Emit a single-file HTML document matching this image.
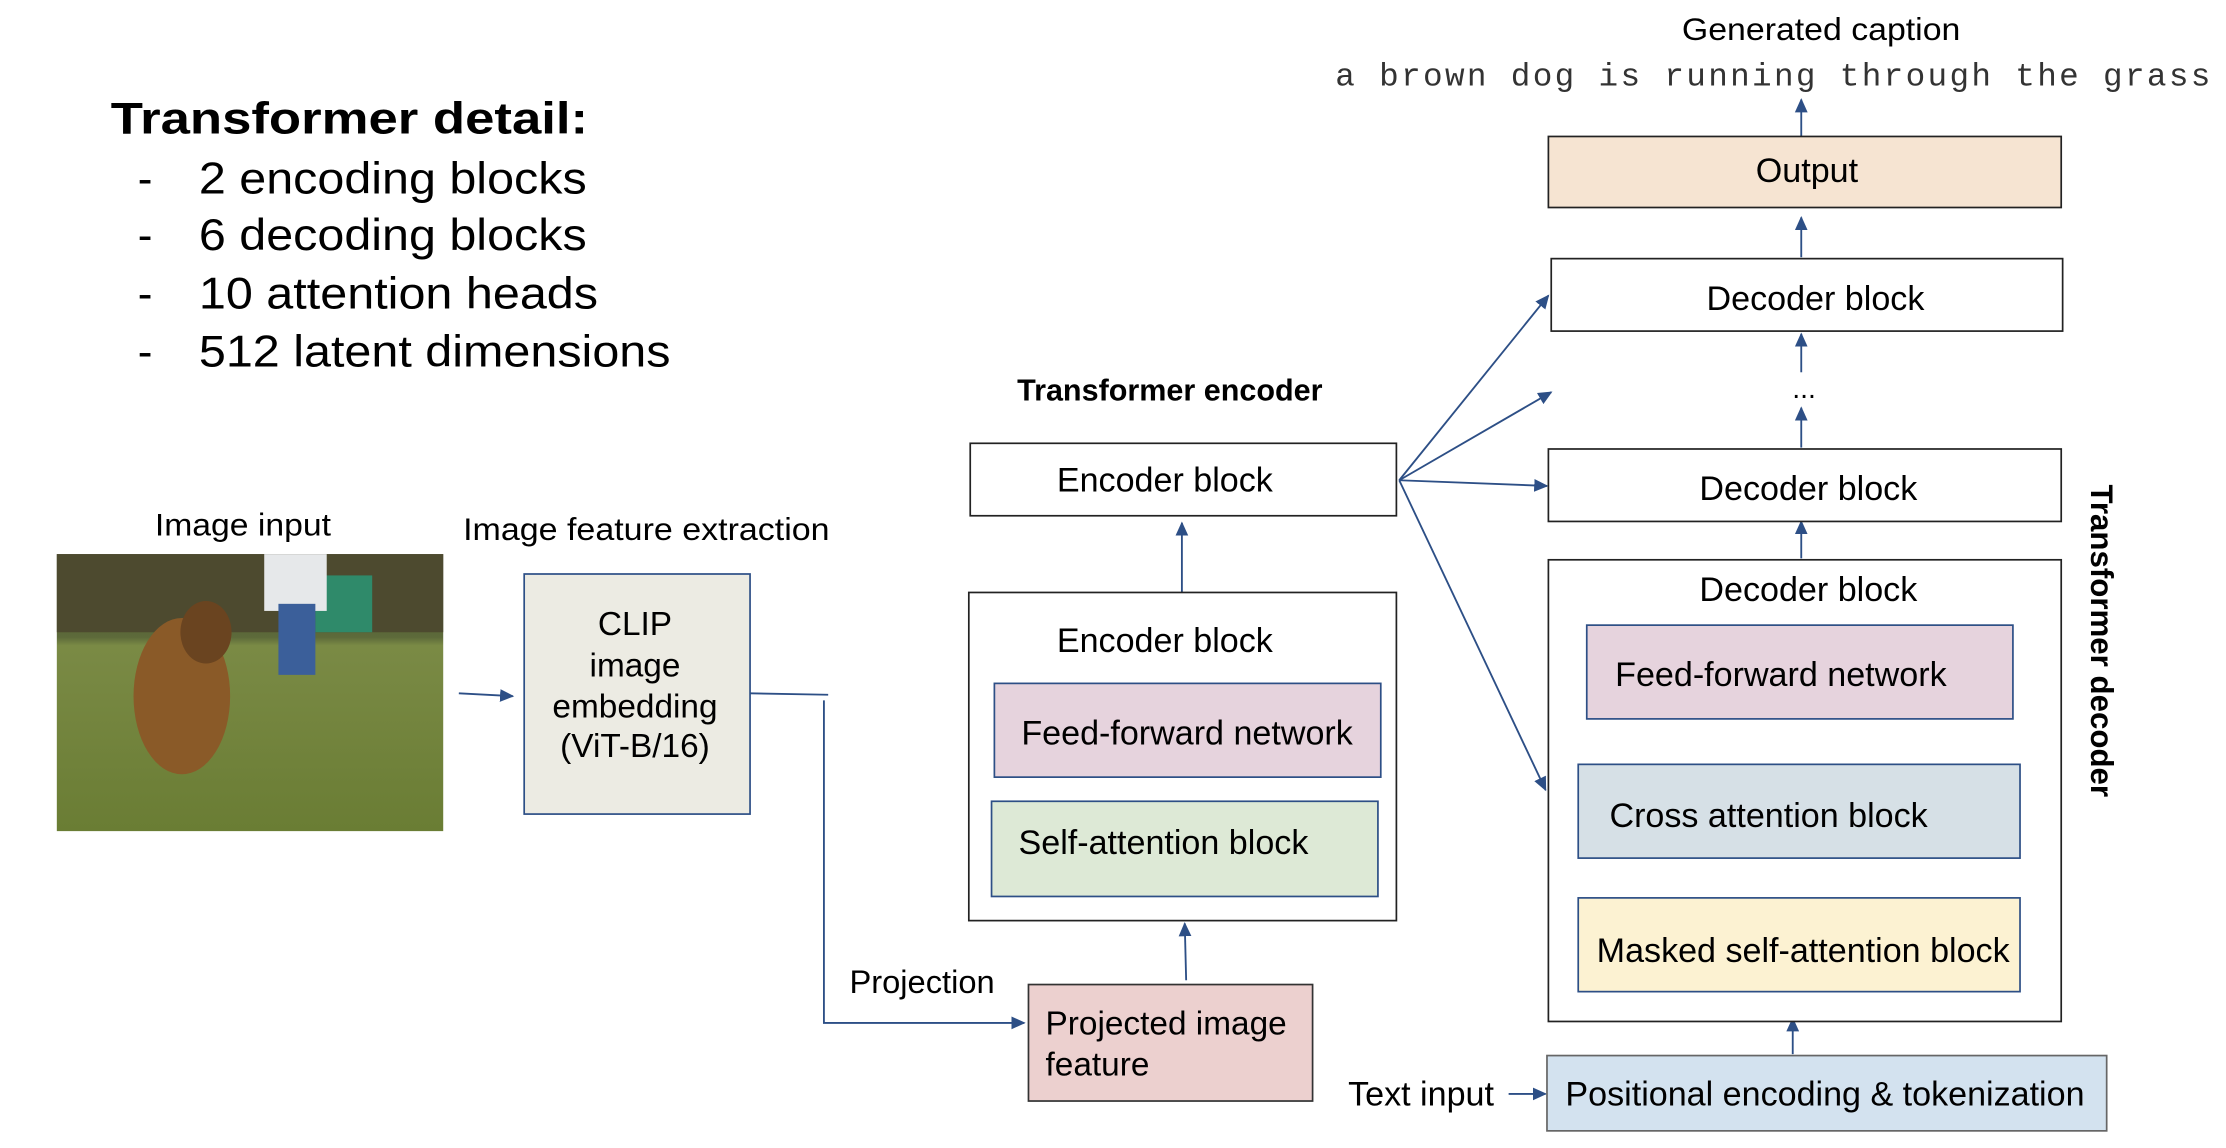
<!DOCTYPE html>
<html><head><meta charset="utf-8"><style>
html,body{margin:0;padding:0;background:#fff;}
svg{display:block;}
text{font-family:"Liberation Sans",Arial,sans-serif;fill:#000;}
</style></head><body>
<svg width="2226" height="1148" viewBox="0 0 1567 808" xmlns="http://www.w3.org/2000/svg">
<defs>
<marker id="a" markerWidth="12" markerHeight="12" refX="9" refY="5.5" orient="auto" markerUnits="userSpaceOnUse">
<path d="M0,1 L10,5.5 L0,10 z" fill="#2d4f86"/>
</marker>
<linearGradient id="sky" x1="0" y1="0" x2="0" y2="1">
<stop offset="0" stop-color="#4a4a30"/><stop offset="0.3" stop-color="#5d6a3a"/><stop offset="0.33" stop-color="#7a8a45"/><stop offset="1" stop-color="#6a7d34"/>
</linearGradient>
</defs>
<text x="78" y="94" font-size="31" font-weight="bold" textLength="336" lengthAdjust="spacingAndGlyphs">Transformer detail:</text>
<g font-size="31">
<text x="97" y="136">-</text><text x="140" y="136" textLength="273" lengthAdjust="spacingAndGlyphs">2 encoding blocks</text>
<text x="97" y="176">-</text><text x="140" y="176" textLength="273" lengthAdjust="spacingAndGlyphs">6 decoding blocks</text>
<text x="97" y="217">-</text><text x="140" y="217" textLength="281" lengthAdjust="spacingAndGlyphs">10 attention heads</text>
<text x="97" y="258">-</text><text x="140" y="258" textLength="332" lengthAdjust="spacingAndGlyphs">512 latent dimensions</text>
</g>
<text x="171" y="377" font-size="22" text-anchor="middle" textLength="124" lengthAdjust="spacingAndGlyphs">Image input</text>
<rect x="40" y="390" width="272" height="195" fill="url(#sky)"/>
<rect x="40" y="390" width="272" height="55" fill="#4d4a2f"/>
<rect x="222" y="405" width="40" height="40" fill="#2f8a6a"/>
<rect x="186" y="390" width="44" height="40" fill="#e6e8ea"/>
<rect x="196" y="425" width="26" height="50" fill="#3b5f9a"/>
<ellipse cx="128" cy="490" rx="34" ry="55" fill="#8a5a28"/>
<ellipse cx="145" cy="445" rx="18" ry="22" fill="#6a4420"/>
<text x="326" y="380" font-size="22" textLength="258" lengthAdjust="spacingAndGlyphs">Image feature extraction</text>
<rect x="369" y="404" width="159" height="169" fill="#ecebe3" stroke="#2d4f86" stroke-width="1.2"/>
<g font-size="23.5" text-anchor="middle">
<text x="447" y="447">CLIP</text><text x="447" y="476">image</text><text x="447" y="505">embedding</text><text x="447" y="533">(ViT-B/16)</text>
</g>
<g stroke="#2d4f86" stroke-width="1.3" fill="none">
<line x1="323" y1="488" x2="361" y2="490" marker-end="url(#a)"/>
<polyline points="528,488 583,489"/>
<polyline points="580,493 580,720 721,720" marker-end="url(#a)"/>
<line x1="835" y1="690" x2="834" y2="650" marker-end="url(#a)"/>
<line x1="832" y1="417" x2="832" y2="368" marker-end="url(#a)"/>
<line x1="985" y1="338" x2="1090" y2="208" marker-end="url(#a)"/>
<line x1="985" y1="338" x2="1092" y2="276" marker-end="url(#a)"/>
<line x1="985" y1="338" x2="1089" y2="342" marker-end="url(#a)"/>
<line x1="985" y1="338" x2="1088" y2="556" marker-end="url(#a)"/>
<line x1="1268" y1="97" x2="1268" y2="70" marker-end="url(#a)"/>
<line x1="1268" y1="181" x2="1268" y2="153" marker-end="url(#a)"/>
<line x1="1268" y1="262" x2="1268" y2="235" marker-end="url(#a)"/>
<line x1="1268" y1="315" x2="1268" y2="287" marker-end="url(#a)"/>
<line x1="1268" y1="393" x2="1268" y2="367" marker-end="url(#a)"/>
<line x1="1268" y1="538" x2="1268" y2="511" marker-end="url(#a)"/>
<line x1="1268" y1="631" x2="1268" y2="605" marker-end="url(#a)"/>
<line x1="1262" y1="742" x2="1262" y2="717" marker-end="url(#a)"/>
<line x1="1062" y1="770" x2="1088" y2="770" marker-end="url(#a)"/>
</g>
<text x="598" y="699" font-size="23">Projection</text>
<rect x="724" y="693" width="200" height="82" fill="#ecd0cf" stroke="#333" stroke-width="1.2"/>
<text x="736" y="728" font-size="23.5">Projected image</text>
<text x="736" y="757" font-size="23.5">feature</text>
<text x="716" y="282" font-size="21.5" font-weight="bold">Transformer encoder</text>
<rect x="683" y="312" width="300" height="51" fill="#fff" stroke="#222" stroke-width="1.2"/>
<text x="820" y="346" font-size="24" text-anchor="middle">Encoder block</text>
<rect x="682" y="417" width="301" height="231" fill="#fff" stroke="#222" stroke-width="1.2"/>
<text x="820" y="459" font-size="24" text-anchor="middle">Encoder block</text>
<rect x="700" y="481" width="272" height="66" fill="#e6d3dd" stroke="#2d4f86" stroke-width="1.2"/>
<text x="719" y="524" font-size="24">Feed-forward network</text>
<rect x="698" y="564" width="272" height="67" fill="#dde9d6" stroke="#2d4f86" stroke-width="1.2"/>
<text x="717" y="601" font-size="24">Self-attention block</text>
<text x="1282" y="28" font-size="22" text-anchor="middle" textLength="196" lengthAdjust="spacingAndGlyphs">Generated caption</text>
<text x="940" y="60" font-size="23" style="font-family:'Liberation Mono',monospace;fill:#333" textLength="616" lengthAdjust="spacing">a brown dog is running through the grass</text>
<rect x="1090" y="96" width="361" height="50" fill="#f6e4d2" stroke="#222" stroke-width="1.2"/>
<text x="1272" y="128" font-size="24" text-anchor="middle">Output</text>
<rect x="1092" y="182" width="360" height="51" fill="#fff" stroke="#222" stroke-width="1.2"/>
<text x="1278" y="218" font-size="24" text-anchor="middle">Decoder block</text>
<text x="1270" y="280" font-size="20" text-anchor="middle">...</text>
<rect x="1090" y="316" width="361" height="51" fill="#fff" stroke="#222" stroke-width="1.2"/>
<text x="1273" y="352" font-size="24" text-anchor="middle">Decoder block</text>
<rect x="1090" y="394" width="361" height="325" fill="#fff" stroke="#222" stroke-width="1.2"/>
<text x="1273" y="423" font-size="24" text-anchor="middle">Decoder block</text>
<rect x="1117" y="440" width="300" height="66" fill="#e6d3dd" stroke="#2d4f86" stroke-width="1.2"/>
<text x="1137" y="483" font-size="24">Feed-forward network</text>
<rect x="1111" y="538" width="311" height="66" fill="#d6e0e6" stroke="#2d4f86" stroke-width="1.2"/>
<text x="1133" y="582" font-size="24">Cross attention block</text>
<rect x="1111" y="632" width="311" height="66" fill="#fcf2d2" stroke="#2d4f86" stroke-width="1.2"/>
<text x="1124" y="677" font-size="24">Masked self-attention block</text>
<rect x="1089" y="743" width="394" height="53" fill="#d3e2ef" stroke="#666" stroke-width="1.2"/>
<text x="1102" y="778" font-size="24">Positional encoding &amp; tokenization</text>
<text x="949" y="778" font-size="24">Text input</text>
<text x="0" y="0" font-size="22" font-weight="bold" text-anchor="middle" transform="translate(1472,451) rotate(90)">Transformer decoder</text>
</svg>
</body></html>
